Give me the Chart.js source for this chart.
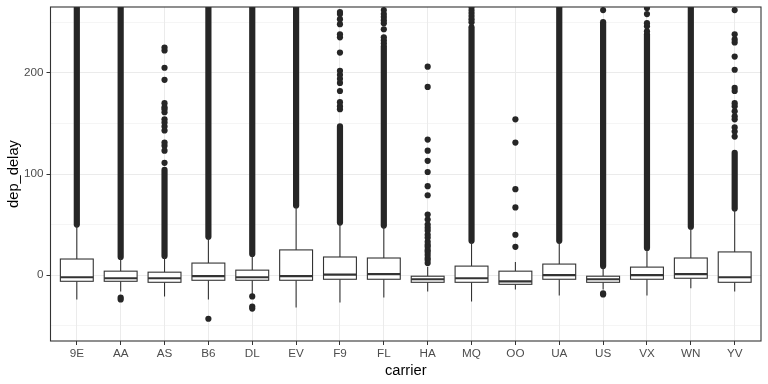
<!DOCTYPE html>
<html>
<head>
<meta charset="utf-8">
<script src="https://cdn.jsdelivr.net/npm/chart.js@4.4.1/dist/chart.umd.min.js"></script>
<style>
  html, body { margin: 0; padding: 0; background: #fff; }
</style>
</head>
<body>
<canvas id="chart" width="768" height="384"></canvas>
<script>
// dep_delay by carrier (box stats)
const carriers = ["9E", "AA", "AS", "B6", "DL", "EV", "F9", "FL", "HA", "MQ", "OO", "UA", "US", "VX", "WN", "YV"];
const whiskerLow = [-24, -16, -21, -24, -19, -32, -27, -22, -16, -26, -14, -20, -14, -20, -13, -16];
const q1 = [-6, -6, -7, -5, -5, -5, -4, -4, -7, -7, -9, -4, -7, -4, -3, -7];
const median = [-2, -3, -3, -1, -2, -1, 0.5, 1, -4, -3, -6, 0, -4, 0, 1, -2];
const q3 = [16, 4, 3, 12, 5, 25, 18, 17, -1, 9, 4, 11, -1, 8, 17, 23];
const whiskerHigh = [49, 17, 18, 37, 20, 68, 51, 48, 8, 33, 13, 33, 8, 25, 47, 65];

// runs of outliers so close together they merge into a solid column
const denseFrom = [50, 18, 19, 38, 21, 69, 52, 49, null, 34, null, 34, 9, 27, 48, 66];
const denseTo = [280, 280, 104, 280, 280, 280, 147, 226, null, 245, null, 280, 250, 238, 280, 121];

// separate outlier points
const highOutliers = [
  [],
  [],
  [111, 123, 128, 131, 143, 147, 151, 154, 161, 164, 166, 170, 193, 205, 222, 225],
  [],
  [],
  [],
  [164, 167, 171, 182, 190, 194, 198, 202, 220, 235, 238, 248, 253, 258, 260],
  [229, 232, 235, 243, 249, 252, 255, 258, 262],
  [12, 15, 17, 20, 23, 25, 28, 30, 33, 37, 40, 44, 47, 50, 55, 60, 79, 88, 102, 113, 123, 134, 186, 206],
  [250, 253, 256, 259, 262, 265],
  [28, 40, 67, 85, 131, 154],
  [],
  [262],
  [241, 246, 249, 258, 264],
  [],
  [137, 142, 146, 154, 157, 162, 167, 170, 182, 185, 203, 216, 230, 233, 238, 262]
];
const lowOutliers = [[], [-22, -24], [], [-43], [-21, -31, -33], [], [], [], [], [], [], [], [-18, -19], [], [], []];

const yTicks = [0, 100, 200];

const outlierPoints = [];
carriers.forEach((c, i) => {
  highOutliers[i].concat(lowOutliers[i]).forEach((v) => {
    outlierPoints.push({ x: i + 1, y: v });
  });
});

const ink = "#333333";
const dotColor = "#262626";
const gridColor = "#EBEBEB";
const fontFamily = "'Liberation Sans', Arial, Helvetica, sans-serif";

const boxPlugin = {
  id: "boxes",
  beforeDatasetsDraw(chart) {
    const { ctx, chartArea, scales } = chart;
    const x = scales.x;
    const y = scales.y;
    ctx.save();
    ctx.beginPath();
    ctx.rect(chartArea.left, chartArea.top, chartArea.width, chartArea.height);
    ctx.clip();

    // solid outlier columns
    ctx.strokeStyle = dotColor;
    ctx.lineWidth = 6.2;
    ctx.lineCap = "round";
    carriers.forEach((c, i) => {
      if (denseFrom[i] === null) return;
      const px = x.getPixelForValue(i + 1);
      ctx.beginPath();
      ctx.moveTo(px, y.getPixelForValue(denseFrom[i]));
      ctx.lineTo(px, y.getPixelForValue(denseTo[i]));
      ctx.stroke();
    });

    ctx.lineCap = "butt";
    carriers.forEach((c, i) => {
      const px = x.getPixelForValue(i + 1);
      const left = x.getPixelForValue(i + 1 - 0.375);
      const right = x.getPixelForValue(i + 1 + 0.375);
      const yQ1 = y.getPixelForValue(q1[i]);
      const yQ3 = y.getPixelForValue(q3[i]);

      // whiskers
      ctx.strokeStyle = ink;
      ctx.lineWidth = 1.1;
      ctx.beginPath();
      ctx.moveTo(px, yQ3);
      ctx.lineTo(px, y.getPixelForValue(whiskerHigh[i]));
      ctx.moveTo(px, yQ1);
      ctx.lineTo(px, y.getPixelForValue(whiskerLow[i]));
      ctx.stroke();

      // box
      ctx.fillStyle = "#ffffff";
      ctx.fillRect(left, yQ3, right - left, yQ1 - yQ3);
      ctx.strokeRect(left, yQ3, right - left, yQ1 - yQ3);

      // median
      ctx.lineWidth = 2.2;
      ctx.beginPath();
      const yMed = y.getPixelForValue(median[i]);
      ctx.moveTo(left, yMed);
      ctx.lineTo(right, yMed);
      ctx.stroke();
    });
    ctx.restore();
  },
  afterDraw(chart) {
    const { ctx, chartArea } = chart;
    ctx.save();
    ctx.strokeStyle = ink;
    ctx.lineWidth = 1.1;
    ctx.strokeRect(chartArea.left, chartArea.top, chartArea.width, chartArea.height);
    ctx.restore();
  }
};

new Chart(document.getElementById("chart"), {
  type: "scatter",
  data: {
    datasets: [
      {
        data: outlierPoints,
        pointRadius: 3.1,
        pointHoverRadius: 3.1,
        pointBackgroundColor: dotColor,
        pointBorderWidth: 0
      }
    ]
  },
  options: {
    responsive: false,
    animation: false,
    devicePixelRatio: 1,
    layout: { padding: { top: 7, right: 7, left: 0, bottom: 0 } },
    plugins: { legend: { display: false }, tooltip: { enabled: false } },
    scales: {
      x: {
        type: "linear",
        min: 0.4,
        max: 16.6,
        afterFit: (scale) => {
          scale.height = 43;
          scale.paddingLeft = 0;
          scale.paddingRight = 0;
        },
        border: { display: false },
        grid: { color: gridColor, lineWidth: 1, tickColor: ink, tickLength: 4, tickWidth: 1 },
        ticks: {
          stepSize: 1,
          includeBounds: false,
          autoSkip: false,
          maxRotation: 0,
          padding: 2,
          color: "#4D4D4D",
          font: { family: fontFamily, size: 11.7 },
          callback: (v) => carriers[v - 1] || ""
        },
        title: {
          display: true,
          text: "carrier",
          color: "#000000",
          font: { family: fontFamily, size: 14.7 },
          padding: { top: 0, bottom: 4 }
        }
      },
      y: {
        min: -65,
        max: 265,
        afterFit: (scale) => {
          scale.width = 50.5;
          scale.paddingTop = 0;
          scale.paddingBottom = 0;
        },
        border: { display: false },
        grid: {
          color: gridColor,
          lineWidth: (ctx) => (yTicks.includes(ctx.tick.value) ? 1 : 0.5),
          tickColor: (ctx) => (yTicks.includes(ctx.tick.value) ? ink : "rgba(0,0,0,0)"),
          tickLength: 4,
          tickWidth: 1
        },
        ticks: {
          stepSize: 50,
          includeBounds: false,
          padding: 3,
          color: "#4D4D4D",
          font: { family: fontFamily, size: 11.7 },
          callback: (v) => (yTicks.includes(v) ? String(v) : "")
        },
        title: {
          display: true,
          text: "dep_delay",
          color: "#000000",
          font: { family: fontFamily, size: 14.7 },
          padding: { top: 5, bottom: 0 }
        }
      }
    }
  },
  plugins: [boxPlugin]
});
</script>
</body>
</html>
